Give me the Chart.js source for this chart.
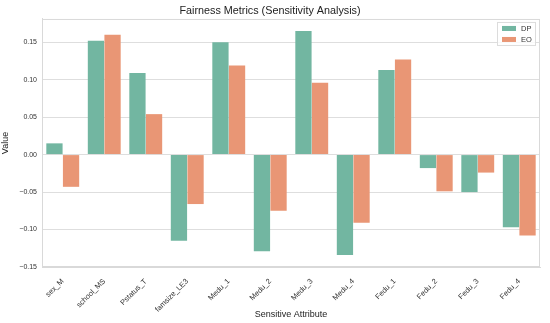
<!DOCTYPE html>
<html>
<head>
<meta charset="utf-8">
<script src="https://cdn.jsdelivr.net/npm/chart.js@4"></script>
<style>
    html, body { margin: 0; padding: 0; background: #fff; }
    #wrap { width: 550px; height: 323px; }
</style>
</head>
<body>
<div id="wrap"><canvas id="fairChart"></canvas></div>
<script>
// Data
const attributes = ['sex_M', 'school_MS', 'Pstatus_T', 'famsize_LE3', 'Medu_1', 'Medu_2',
    'Medu_3', 'Medu_4', 'Fedu_1', 'Fedu_2', 'Fedu_3', 'Fedu_4'];
const dpValues = [0.015, 0.152, 0.109, -0.115, 0.150, -0.129, 0.165, -0.134, 0.113, -0.018, -0.050, -0.097];
const eoValues = [-0.043, 0.160, 0.054, -0.066, 0.119, -0.075, 0.096, -0.091, 0.127, -0.049, -0.024, -0.108];
const yTicks = [-0.15, -0.10, -0.05, 0.00, 0.05, 0.10, 0.15];

const FONT = 'Liberation Sans, Arial, sans-serif';
const dpColor = '#72b6a1';
const eoColor = '#e99675';

// border around the plot + legend inside the top-right corner
const framePlugin = {
    id: 'frame',
    afterDraw(chart) {
        const { ctx, chartArea: a } = chart;
        ctx.save();
        ctx.strokeStyle = '#d9d9d9';
        ctx.lineWidth = 1;
        ctx.strokeRect(a.left + 0.5, a.top + 0.5, a.right - a.left - 1, a.bottom - a.top - 1);

        // legend
        const bx = a.right - 43, by = a.top + 3;
        ctx.fillStyle = 'rgba(255,255,255,0.8)';
        ctx.strokeStyle = '#dcdcdc';
        ctx.fillRect(bx, by, 39, 24);
        ctx.strokeRect(bx + 0.5, by + 0.5, 38, 23);
        ctx.font = '7.5px ' + FONT;
        ctx.textBaseline = 'middle';
        chart.data.datasets.forEach((ds, i) => {
            const cy = by + 6.5 + i * 11;
            ctx.fillStyle = ds.backgroundColor;
            ctx.fillRect(bx + 5, cy - 2.5, 14, 5);
            ctx.fillStyle = '#333';
            ctx.fillText(ds.label, bx + 24, cy);
        });
        ctx.restore();
    }
};

new Chart(document.getElementById('fairChart'), {
    type: 'bar',
    data: {
        labels: attributes,
        datasets: [
            { label: 'DP', data: dpValues, backgroundColor: dpColor },
            { label: 'EO', data: eoValues, backgroundColor: eoColor }
        ]
    },
    options: {
        responsive: true,
        maintainAspectRatio: false,
        animation: false,
        devicePixelRatio: 1,
        layout: { padding: { left: 0, right: 10, top: 0, bottom: 0 } },
        datasets: {
            bar: { barPercentage: 0.98, categoryPercentage: 0.8 }
        },
        scales: {
            x: {
                grid: { display: false },
                border: { color: '#d9d9d9' },
                ticks: {
                    color: '#333',
                    font: { family: FONT, size: 7.5 },
                    maxRotation: 45,
                    minRotation: 45,
                    padding: 2
                },
                title: {
                    display: true,
                    text: 'Sensitive Attribute',
                    color: '#222',
                    font: { family: FONT, size: 9 },
                    padding: { top: 0, bottom: 3 }
                },
                afterFit(scale) { scale.height = 56; }
            },
            y: {
                min: -0.15,
                max: 0.181,
                afterBuildTicks(scale) { scale.ticks = yTicks.map(v => ({ value: v })); },
                grid: { color: '#dedede', drawTicks: false },
                border: { color: '#d9d9d9' },
                ticks: {
                    color: '#333',
                    font: { family: FONT, size: 7 },
                    padding: 5,
                    callback: v => (v < 0 ? '\u2212' : '') + Math.abs(v).toFixed(2)
                },
                title: {
                    display: true,
                    text: 'Value',
                    color: '#222',
                    font: { family: FONT, size: 9 },
                    padding: { top: 0, bottom: 2 }
                },
                afterFit(scale) { scale.width = 42; }
            }
        },
        plugins: {
            legend: { display: false },
            tooltip: { enabled: false },
            title: {
                display: true,
                text: 'Fairness Metrics (Sensitivity Analysis)',
                color: '#222',
                font: { family: FONT, size: 10.8, weight: 'normal' },
                padding: { top: 5, bottom: 1 }
            }
        }
    },
    plugins: [framePlugin]
});
</script>
</body>
</html>
